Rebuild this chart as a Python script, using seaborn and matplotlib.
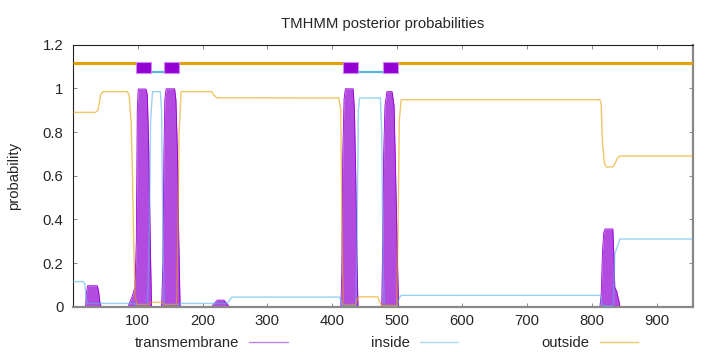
import matplotlib
matplotlib.use("Agg")
import matplotlib.pyplot as plt
from matplotlib.lines import Line2D
import numpy as np
import pandas as pd
import seaborn as sns

# ---------------- data ----------------
title = "TMHMM posterior probabilities"
ylabel = "probability"
seq_len = 955
yticks = [0, 0.2, 0.4, 0.6, 0.8, 1.0, 1.2]
ytick_labels = ["0", "0.2", "0.4", "0.6", "0.8", "1", "1.2"]
xticks = [100, 200, 300, 400, 500, 600, 700, 800, 900]

# transmembrane posterior (keyframes)
tm_pos = [1, 20, 21, 23, 38, 40, 42, 44,
          85, 88, 92, 96, 98, 99.5, 101, 113, 115, 117, 119.5, 121.5,
          137, 139, 140.5, 142, 144, 157, 159, 161.5, 163.5, 165.5,
          214, 218, 223, 233, 238, 241,
          413, 414.5, 416, 418, 420, 432, 434, 436, 438, 439.5,
          476, 477.5, 479, 481, 484, 492, 495, 497.5, 500, 502,
          812, 814, 816, 818, 820, 832, 834, 835, 838, 841, 843, 955]
tm_val = [0, 0, 0.06, 0.096, 0.096, 0.07, 0.02, 0,
          0, 0.02, 0.05, 0.09, 0.3, 0.9, 0.997, 0.997, 0.97, 0.75, 0.3, 0,
          0, 0.2, 0.7, 0.95, 0.998, 0.998, 0.95, 0.7, 0.3, 0,
          0, 0.015, 0.03, 0.03, 0.012, 0,
          0, 0.15, 0.7, 0.95, 0.998, 0.998, 0.9, 0.6, 0.2, 0,
          0, 0.3, 0.7, 0.92, 0.985, 0.985, 0.92, 0.6, 0.25, 0,
          0, 0.05, 0.25, 0.34, 0.356, 0.356, 0.2, 0.09, 0.07, 0.03, 0, 0]

# inside posterior
in_pos = [1, 17, 19, 21, 23, 95, 97, 115, 118, 120, 123, 135, 137, 139, 141,
          163, 166, 238, 242, 245, 411, 414, 416, 436, 438, 440, 442, 474, 476,
          478, 480, 500, 503, 506, 813, 815, 819, 831, 833, 835, 837, 843, 955]
in_val = [0.115, 0.115, 0.1, 0.03, 0.015, 0.015, 0.01, 0.01, 0.3, 0.85, 0.985,
          0.985, 0.9, 0.3, 0.01, 0.01, 0.015, 0.015, 0.03, 0.044, 0.044, 0.02,
          0.005, 0.005, 0.3, 0.9, 0.956, 0.956, 0.8, 0.2, 0.005, 0.005, 0.04,
          0.052, 0.052, 0.01, 0.003, 0.003, 0.01, 0.24, 0.26, 0.31, 0.31]

# outside posterior
out_pos = [1, 35, 39, 43, 47, 84, 87, 90, 92, 94, 96, 99, 117, 121, 137, 141,
           160, 162, 164, 167, 214, 217, 222, 410, 413, 415, 417, 436, 439, 442,
           470, 473, 476, 499, 501, 503, 506, 812, 814, 816, 819, 822, 832, 836,
           839, 843, 955]
out_val = [0.89, 0.89, 0.90, 0.97, 0.985, 0.985, 0.97, 0.85, 0.62, 0.3, 0.05,
           0.01, 0.01, 0.02, 0.02, 0.01, 0.01, 0.3, 0.8, 0.985, 0.985, 0.97,
           0.957, 0.956, 0.9, 0.3, 0.01, 0.01, 0.04, 0.045, 0.045, 0.02, 0.005,
           0.005, 0.3, 0.85, 0.948, 0.948, 0.93, 0.75, 0.66, 0.64, 0.64, 0.66,
           0.68, 0.69, 0.69]

# predicted topology (top bar)
tm_helix_start = [98, 141, 416, 478]
tm_helix_end = [121, 164, 439, 501]
inside_start = [121, 439]
inside_end = [141, 478]
outside_start = [1, 164, 501]
outside_end = [98, 416, 955]
y_outside_bar = 1.115
y_inside_bar = 1.073
tm_box_bottom = 1.069
tm_box_top = 1.119

legend_labels = ["transmembrane", "inside", "outside"]

# ---------------- style ----------------
sns.set_style("white")
plt.rcParams["font.family"] = ["Liberation Sans", "DejaVu Sans"]
FS = 10.7

purple = "#9400D3"
purple_fill = "#B44BE1"
blue = "#56B4E9"
orange = "#E69F00"

fig = plt.figure(figsize=(7.2, 3.52), dpi=100)
ax = fig.add_axes([73.3 / 720, 1 - 306.7 / 352, (692.7 - 73.3) / 720, (306.7 - 44.7) / 352])

# transmembrane impulses (filled)
ax.fill_between(tm_pos, 0, tm_val, color=purple_fill, lw=0, zorder=2)
ax.plot(tm_pos, tm_val, color=purple, lw=0.6, zorder=2.1)

df = pd.concat([
    pd.DataFrame({"pos": in_pos, "prob": in_val, "series": "inside"}),
    pd.DataFrame({"pos": out_pos, "prob": out_val, "series": "outside"}),
])
sns.lineplot(data=df, x="pos", y="prob", hue="series",
             palette={"inside": blue, "outside": orange},
             estimator=None, lw=1.0, alpha=0.6, legend=False, ax=ax, zorder=3)

# topology bar
ax.hlines([y_outside_bar] * len(outside_start), outside_start, outside_end,
          color=orange, lw=2.2, zorder=4)
ax.hlines([y_inside_bar] * len(inside_start), inside_start, inside_end,
          color=blue, lw=1.6, zorder=4)
ax.broken_barh([(s, e - s) for s, e in zip(tm_helix_start, tm_helix_end)],
               (tm_box_bottom, tm_box_top - tm_box_bottom),
               facecolor=purple, edgecolor="#C98CF0", lw=0.8, zorder=5)

ax.set_xlim(1, seq_len)
ax.set_ylim(0, 1.2)
ax.set_xticks(xticks)
ax.set_xticklabels([str(t) for t in xticks], fontsize=FS)
ax.set_yticks(yticks)
ax.set_yticklabels(ytick_labels, fontsize=FS)
ax.tick_params(direction="in", length=3, width=0.6, color="#777777",
               top=True, right=True, bottom=True, left=True)
ax.tick_params(axis="y", pad=7)
ax.tick_params(axis="x", pad=5)
ax.set_xlabel("")
ax.set_ylabel(ylabel, fontsize=FS)
ax.yaxis.set_label_coords(-0.085, 0.5)
ax.set_title(title, fontsize=FS, pad=12)

for side in ["left", "top"]:
    ax.spines[side].set_color("#222222")
    ax.spines[side].set_linewidth(0.8)
for side in ["right", "bottom"]:
    ax.spines[side].set_color("#888888")
    ax.spines[side].set_linewidth(1.6)

handles = [Line2D([], [], color="#C080E8", lw=1.0),
           Line2D([], [], color="#A8D8F0", lw=1.0),
           Line2D([], [], color="#F0C870", lw=1.0)]
fig.legend(handles, legend_labels, loc="center",
           bbox_to_anchor=(386.5 / 720, 1 - 343 / 352), ncol=3,
           markerfirst=False, frameon=False, handlelength=2.6,
           handletextpad=0.67, columnspacing=5.6, fontsize=FS,
           borderaxespad=0, borderpad=0)

fig.savefig("out.png", dpi=100)
